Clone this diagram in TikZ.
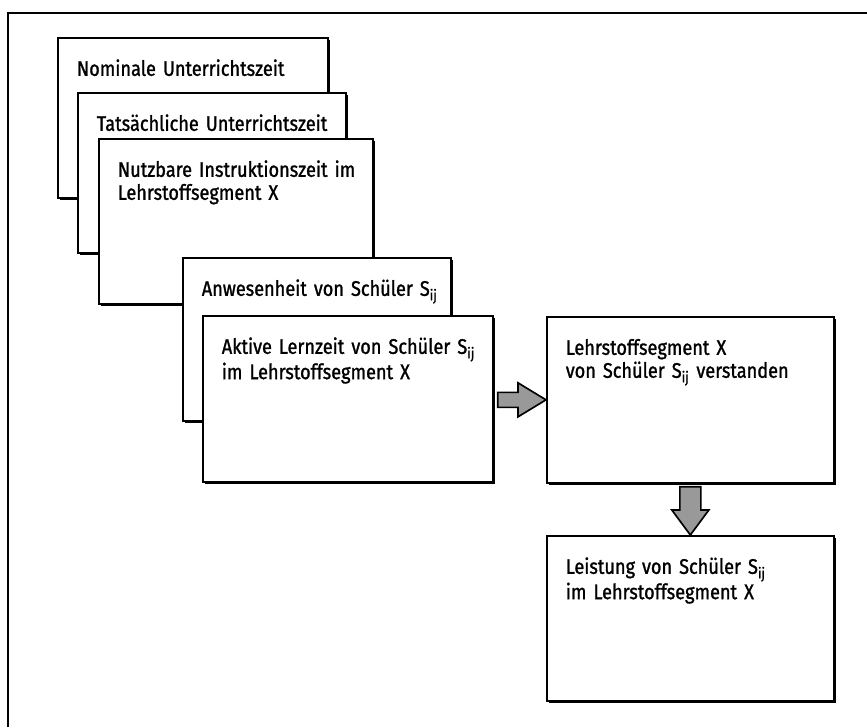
\documentclass[tikz,border=0pt]{standalone}
\usepackage{fontspec}
\setmainfont{Fira Sans}[FakeStretch=0.86,FakeBold=1.2]
\usetikzlibrary{calc,shadows}

\begin{document}
\begin{tikzpicture}[font=\fontsize{18}{19.6}\selectfont, line width=0.05cm,
  zbox/.style 2 args={draw=black, fill=white, anchor=north west, align=left, inner xsep=0.57cm, inner ysep=0pt,
    text height=1.14cm, text width=#1cm, text depth=#2cm,
    drop shadow={shadow xshift=0.075cm, shadow yshift=-0.075cm, opacity=1, fill=black}},
  fat/.style={draw=black, fill=black!40, line width=0.05cm, line join=miter}]
\useasboundingbox (0,0) rectangle (26.01,-21.81);
% ---- frame (only top and left survive)
\draw[line width=0.06cm] (0.24,-21.81) -- (0.24,-0.39) -- (26.01,-0.39);
% ---- the stack of time concepts
\node[zbox={6.96}{3.66}] (nom) at (1.71,-1.11) {\mbox{Nominale Unterrichtszeit}};
\node[zbox={6.90}{3.66}] (tat) at (2.31,-2.76) {\mbox{Tatsächliche Unterrichtszeit}};
\node[zbox={7.08}{3.81}] (nutz) at (2.94,-4.14) {\mbox{Nutzbare Instruktionszeit im}\\ \mbox{Lehrstoffsegment X}};
\node[zbox={6.90}{3.75}] (anw) at (5.46,-7.71) {\mbox{Anwesenheit von Schüler S\textsubscript{ij}}};
\node[zbox={7.56}{3.84}] (akt) at (6.06,-9.45) {\mbox{Aktive Lernzeit von Schüler S\textsubscript{ij}}\\ \mbox{im Lehrstoffsegment X}};
% ---- outcomes
\node[zbox={7.47}{3.84}] (vers) at (16.38,-9.48) {\mbox{Lehrstoffsegment X}\\ \mbox{von Schüler S\textsubscript{ij} verstanden}};
\node[zbox={7.47}{3.81}] (leist) at (16.38,-16.05) {\mbox{Leistung von Schüler S\textsubscript{ij}}\\ \mbox{im Lehrstoffsegment X}};
% ---- fat arrows
\draw[fat] (vers.west) -- ++(-0.84,0.51) -- ++(0,-0.285)
  -- ([xshift=0.12cm,yshift=0.225cm]vers.west -| akt.east) -- ++(0,-0.45)
  -- ([xshift=-0.84cm,yshift=-0.225cm]vers.west) -- ++(0,-0.285) -- cycle;
\draw[fat] (leist.north) -- ++(-0.555,0.75) -- ++(0.24,0)
  -- ([xshift=-0.315cm,yshift=-0.09cm]leist.north |- vers.south) -- ++(0.63,0)
  -- ([xshift=0.315cm,yshift=0.75cm]leist.north) -- ++(0.24,0) -- cycle;
\end{tikzpicture}
\end{document}
